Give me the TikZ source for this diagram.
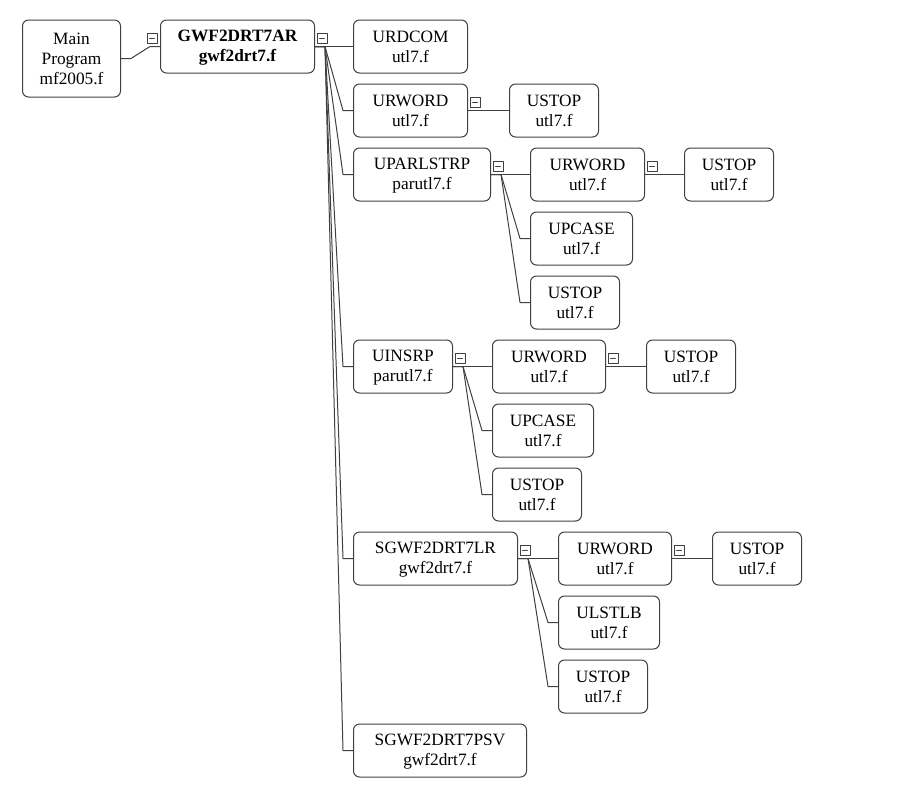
\documentclass[tikz,border=0pt]{standalone}
\usepackage{fontspec}
\setmainfont{Liberation Serif}
\definecolor{edgegray}{HTML}{404040}
\newcommand\lnstrut{\rule[-3pt]{0pt}{17pt}}
\newcommand\subname[2]{\lnstrut #1\\\lnstrut #2}
\newcommand\minusbox[1]{\draw[link,line width=0.8pt,shift={(#1)}] (0,-13) rectangle (10,-3) (2.5,-8) -- (7.5,-8);}
\begin{document}
\begin{tikzpicture}[x=1pt,y=-1pt,line cap=round,line join=round,
  sub/.style={draw=edgegray,line width=1pt,rounded corners=6pt,fill=white,align=center,anchor=west,
    inner xsep=0pt,inner ysep=0pt,minimum height=53pt,font=\rmfamily\fontsize{17.3}{20}\selectfont},
  link/.style={draw=edgegray,line width=1pt}]
  \useasboundingbox (0,0) rectangle (902,798);
  \node[sub,minimum width=98pt,minimum height=77pt] (main) at (22,58.5) {\lnstrut Main\\\lnstrut Program\\\lnstrut mf2005.f};
  \node[sub,minimum width=154pt,font=\rmfamily\fontsize{17.3}{20}\selectfont\bfseries] (gwf) at (160,46.5) {\subname{GWF2DRT7AR}{gwf2drt7.f}};
  \node[sub,minimum width=114pt] (urdcom) at (353,46.5) {\subname{URDCOM}{utl7.f}};
  \node[sub,minimum width=114pt] (urwordA) at (353,110.5) {\subname{URWORD}{utl7.f}};
  \node[sub,minimum width=89pt] (ustopA) at (509,110.5) {\subname{USTOP}{utl7.f}};
  \node[sub,minimum width=137pt] (uparlstrp) at (353,174.5) {\subname{UPARLSTRP}{parutl7.f}};
  \node[sub,minimum width=114pt] (urwordB) at (530,174.5) {\subname{URWORD}{utl7.f}};
  \node[sub,minimum width=89pt] (ustopB) at (684,174.5) {\subname{USTOP}{utl7.f}};
  \node[sub,minimum width=102pt] (upcaseA) at (530,238.5) {\subname{UPCASE}{utl7.f}};
  \node[sub,minimum width=89pt] (ustopC) at (530,302.5) {\subname{USTOP}{utl7.f}};
  \node[sub,minimum width=99pt] (uinsrp) at (353,366.5) {\subname{UINSRP}{parutl7.f}};
  \node[sub,minimum width=113pt] (urwordC) at (492,366.5) {\subname{URWORD}{utl7.f}};
  \node[sub,minimum width=89pt] (ustopD) at (646,366.5) {\subname{USTOP}{utl7.f}};
  \node[sub,minimum width=101pt] (upcaseB) at (492,430.5) {\subname{UPCASE}{utl7.f}};
  \node[sub,minimum width=89pt] (ustopE) at (492,494.5) {\subname{USTOP}{utl7.f}};
  \node[sub,minimum width=164pt] (sgwflr) at (353,558.5) {\subname{SGWF2DRT7LR}{gwf2drt7.f}};
  \node[sub,minimum width=113pt] (urwordD) at (558,558.5) {\subname{URWORD}{utl7.f}};
  \node[sub,minimum width=89pt] (ustopF) at (712,558.5) {\subname{USTOP}{utl7.f}};
  \node[sub,minimum width=101pt] (ulstlb) at (558,622.5) {\subname{ULSTLB}{utl7.f}};
  \node[sub,minimum width=89pt] (ustopG) at (558,686.5) {\subname{USTOP}{utl7.f}};
  \node[sub,minimum width=173pt] (sgwfpsv) at (353,750.5) {\subname{SGWF2DRT7PSV}{gwf2drt7.f}};
  \foreach \p/\c in {main/gwf,gwf/urdcom,gwf/urwordA,gwf/uparlstrp,gwf/uinsrp,gwf/sgwflr,gwf/sgwfpsv,
      urwordA/ustopA,uparlstrp/urwordB,uparlstrp/upcaseA,uparlstrp/ustopC,urwordB/ustopB,
      uinsrp/urwordC,uinsrp/upcaseB,uinsrp/ustopE,urwordC/ustopD,
      sgwflr/urwordD,sgwflr/ulstlb,sgwflr/ustopG,urwordD/ustopF}
    \draw[link] (\p.east) -- ++(10,0) -- ([xshift=-10pt]\c.west) -- (\c.west);
  \minusbox{[xshift=-13pt]gwf.west}
  \foreach \p in {gwf,urwordA,uparlstrp,urwordB,uinsrp,urwordC,sgwflr,urwordD}
    {\minusbox{[xshift=2pt]\p.east}}
\end{tikzpicture}
\end{document}
